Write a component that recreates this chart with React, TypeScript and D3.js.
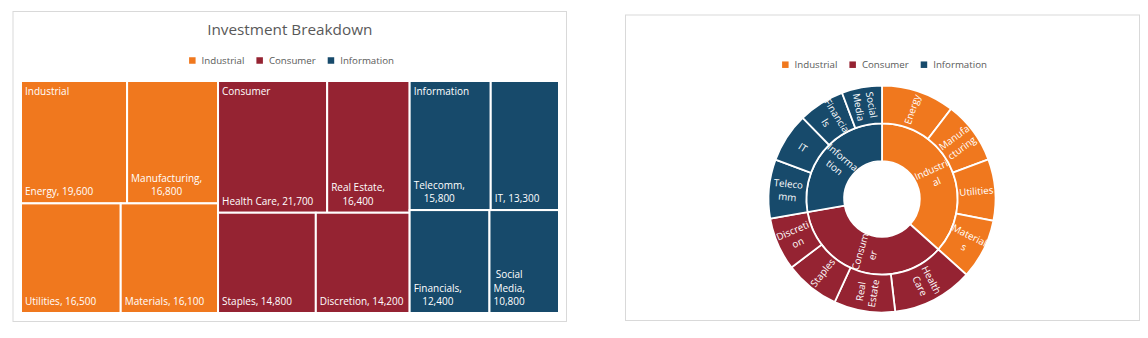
import React from "react";
import * as d3 from "d3";

const categories = ["Industrial", "Consumer", "Information"];
const categoryColors = ["#F0781E", "#952332", "#174A6B"];

const industrialSectors = ["Energy", "Manufacturing", "Utilities", "Materials"];
const industrialValues = [19600, 16800, 16500, 16100];
const consumerSectors = ["Health Care", "Real Estate", "Staples", "Discretion"];
const consumerValues = [21700, 16400, 14800, 14200];
const informationSectors = ["Telecomm", "IT", "Financials", "Social Media"];
const informationValues = [15800, 13300, 12400, 10800];

const sectorNames = [industrialSectors, consumerSectors, informationSectors];
const sectorValues = [industrialValues, consumerValues, informationValues];

const chartTitle = "Investment Breakdown";

const FONT = "'Open Sans'";
const TEXT_GRAY = "#595959";
const fmt = d3.format(",");

let ctx: CanvasRenderingContext2D | null = null;
function measure(text: string, size: number): number {
  if (!ctx) ctx = document.createElement("canvas").getContext("2d");
  ctx!.font = `${size}px ${FONT}`;
  return ctx!.measureText(text).width;
}

function wrapWords(text: string, maxW: number, size: number): string[] {
  const words = text.split(" ");
  const lines: string[] = [];
  let cur = "";
  for (const w of words) {
    const test = cur ? cur + " " + w : w;
    if (cur && measure(test, size) > maxW) {
      lines.push(cur);
      cur = w;
    } else cur = test;
  }
  if (cur) lines.push(cur);
  return lines;
}

function wrapChars(text: string, maxW: number, size: number): string[] {
  const out: string[] = [];
  for (const line of wrapWords(text, maxW, size)) {
    if (measure(line, size) <= maxW) {
      out.push(line);
      continue;
    }
    let cur = "";
    for (const ch of line) {
      if (cur && measure(cur + ch, size) > maxW) {
        out.push(cur);
        cur = ch;
      } else cur += ch;
    }
    if (cur) out.push(cur);
  }
  return out;
}

function buildData() {
  return {
    name: "root",
    children: categories.map((c, i) => ({
      name: c,
      idx: i,
      children: sectorNames[i].map((n, j) => ({ name: n, idx: i, value: sectorValues[i][j] })),
    })),
  };
}

// two-row tiling inside each category, categories side by side
function tile(node: any, x0: number, y0: number, x1: number, y1: number) {
  if (node.depth === 0) {
    d3.treemapDice(node, x0, y0, x1, y1);
    return;
  }
  const kids = node.children;
  const rows = [kids.slice(0, 2), kids.slice(2)];
  let y = y0;
  for (const row of rows) {
    const v = d3.sum(row, (c: any) => c.value);
    const h = ((y1 - y0) * v) / node.value;
    let x = x0;
    for (const c of row) {
      const w = ((x1 - x0) * c.value) / v;
      c.x0 = x;
      c.x1 = x + w;
      c.y0 = y;
      c.y1 = y + h;
      x += w;
    }
    y += h;
  }
}

function Legend({ cx, cy, size }: { cx: number; cy: number; size: number }) {
  const sq = 6.5;
  const gap = 6;
  const itemGap = 12;
  const widths = categories.map((c) => sq + gap + measure(c, size));
  const total = d3.sum(widths) + itemGap * (categories.length - 1);
  let x = cx - total / 2;
  return (
    <g>
      {categories.map((c, i) => {
        const gx = x;
        x += widths[i] + itemGap;
        return (
          <g key={c}>
            <rect x={gx} y={cy - sq / 2} width={sq} height={sq} fill={categoryColors[i]} />
            <text x={gx + sq + gap} y={cy} dy="0.35em" fontSize={size} fill={TEXT_GRAY} fontFamily={FONT}>
              {c}
            </text>
          </g>
        );
      })}
    </g>
  );
}

function Treemap() {
  const box = { x0: 13, y0: 11.5, x1: 566.5, y1: 321.5 };
  const area = { x0: 21, y0: 81, x1: 559, y1: 313 };
  const root = d3.hierarchy<any>(buildData()).sum((d: any) => d.value ?? 0);
  d3.treemap<any>().tile(tile as any).size([area.x1 - area.x0, area.y1 - area.y0])(root);
  const leaves = root.leaves() as any[];
  const groups = (root.children ?? []) as any[];
  const fs = 10;
  const lh = 13.5;
  return (
    <g>
      <rect x={box.x0} y={box.y0} width={box.x1 - box.x0} height={box.y1 - box.y0} fill="#fff" stroke="#D9D9D9" strokeWidth={1} />
      <text x={(box.x0 + box.x1) / 2} y={35} textAnchor="middle" fontSize={15.3} fill={TEXT_GRAY} fontFamily={FONT}>
        {chartTitle}
      </text>
      <Legend cx={291.5} cy={60.5} size={9.7} />
      <g transform={`translate(${area.x0},${area.y0})`}>
        {leaves.map((d) => (
          <rect
            key={d.data.name}
            x={d.x0}
            y={d.y0}
            width={d.x1 - d.x0}
            height={d.y1 - d.y0}
            fill={categoryColors[d.data.idx]}
            stroke="#fff"
            strokeWidth={2}
          />
        ))}
        {leaves.map((d) => {
          const label = `${d.data.name}, ${fmt(d.data.value)}`;
          const lines = wrapWords(label, d.x1 - d.x0 - 9.5, fs);
          const bw = d3.max(lines, (l) => measure(l, fs)) ?? 0;
          const cx = d.x0 + 4 + bw / 2;
          const lastY = d.y1 - 8;
          return (
            <text key={d.data.name + "l"} fontSize={fs} fill="#fff" fontFamily={FONT} textAnchor="middle">
              {lines.map((l, i) => (
                <tspan key={i} x={cx} y={lastY - (lines.length - 1 - i) * lh}>
                  {l}
                </tspan>
              ))}
            </text>
          );
        })}
        {groups.map((g) => (
          <text key={g.data.name} x={g.x0 + 4} y={g.y0 + 14} fontSize={fs} fill="#fff" fontFamily={FONT}>
            {g.data.name}
          </text>
        ))}
      </g>
    </g>
  );
}

function Sunburst() {
  const box = { x0: 625.5, y0: 15, x1: 1139.5, y1: 320.5 };
  const cx = 882;
  const cy = 199;
  const R = 113.5;
  const root = d3.hierarchy<any>(buildData()).sum((d: any) => d.value ?? 0);
  d3.partition<any>().size([2 * Math.PI, R])(root);
  const nodes = root.descendants().filter((d) => d.depth > 0) as any[];
  const arc = d3
    .arc<any>()
    .startAngle((d) => d.x0)
    .endAngle((d) => d.x1)
    .innerRadius((d) => d.y0)
    .outerRadius((d) => d.y1);
  const fs = 9.78;
  const lh = 13;
  return (
    <g>
      <rect x={box.x0} y={box.y0} width={box.x1 - box.x0} height={box.y1 - box.y0} fill="#fff" stroke="#D9D9D9" strokeWidth={1} />
      <Legend cx={884.5} cy={64.7} size={9.7} />
      <g transform={`translate(${cx},${cy})`}>
        {nodes.map((d) => (
          <path key={d.data.name} d={arc(d) ?? ""} fill={categoryColors[d.data.idx]} stroke="#fff" strokeWidth={1.8} />
        ))}
        {nodes.map((d) => {
          const a = (d.x0 + d.x1) / 2;
          const r = (d.y0 + d.y1) / 2;
          const deg = (a * 180) / Math.PI;
          const rot = deg > 180 ? deg - 270 : deg - 90;
          const x = Math.sin(a) * r;
          const y = -Math.cos(a) * r;
          const lines = wrapChars(d.data.name, d.y1 - d.y0, fs);
          return (
            <text
              key={d.data.name + "l"}
              transform={`translate(${x},${y}) rotate(${rot})`}
              fontSize={fs}
              fill="#fff"
              fontFamily={FONT}
              textAnchor="middle"
            >
              {lines.map((l, i) => (
                <tspan key={i} x={0} y={(i - (lines.length - 1) / 2) * lh} dy="0.35em">
                  {l}
                </tspan>
              ))}
            </text>
          );
        })}
      </g>
    </g>
  );
}

export default function App() {
  return (
    <svg width={1148} height={338} style={{ position: "absolute", left: 0, top: 0, background: "#fff" }}>
      <Treemap />
      <Sunburst />
    </svg>
  );
}
